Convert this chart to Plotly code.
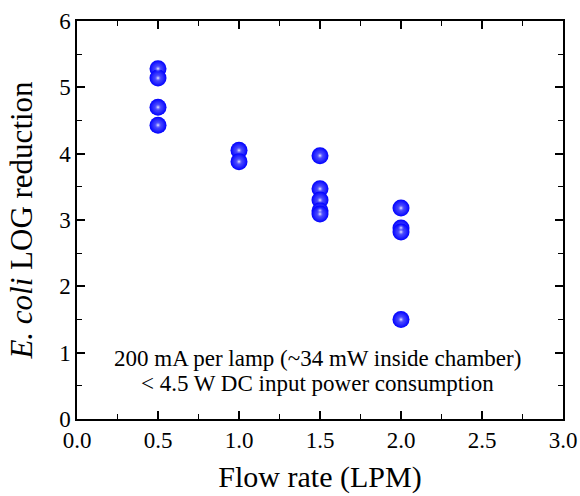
import plotly.graph_objects as go

flow_rate = [0.5, 0.5, 0.5, 0.5,
             1.0, 1.0,
             1.5, 1.5, 1.5, 1.5, 1.5,
             2.0, 2.0, 2.0, 2.0]
log_reduction = [5.28, 5.14, 4.70, 4.43,
                 4.05, 3.88,
                 3.97, 3.47, 3.30, 3.14, 3.09,
                 3.18, 2.88, 2.82, 1.50]

note_lines = ['200 mA per lamp (~34 mW inside chamber)',
              '< 4.5 W DC input power consumption']

font = 'Liberation Serif, Times New Roman, serif'

fig = go.Figure()
# sphere-like markers: radial gradient, light centre to blue edge
fig.add_trace(go.Scatter(
    x=flow_rate, y=log_reduction, mode='markers',
    marker=dict(size=17, color='#0000ff',
                gradient=dict(type='radial', color='#7070ff'),
                line=dict(width=0)),
    hoverinfo='skip', showlegend=False))
fig.add_trace(go.Scatter(
    x=flow_rate, y=log_reduction, mode='markers',
    marker=dict(size=8, color='rgba(0,0,255,0)',
                gradient=dict(type='radial', color='#f4f4ff'),
                line=dict(width=0)),
    showlegend=False))

axis = dict(showline=True, linecolor='black', linewidth=1.5, mirror='ticks',
            ticks='inside', ticklen=8, tickwidth=1.5, tickcolor='black',
            showgrid=False, zeroline=False, automargin=False,
            tickfont=dict(family=font, size=23, color='black'))

fig.update_xaxes(range=[0, 3], dtick=0.5, tickformat='.1f',
                 minor=dict(dtick=0.25, ticks='inside', ticklen=5, tickwidth=1.2, tickcolor='black'),
                 title=dict(text='Flow rate (LPM)', font=dict(family=font, size=30, color='black'),
                            standoff=14),
                 **axis)
fig.update_yaxes(range=[0, 6], dtick=1,
                 minor=dict(dtick=0.5, ticks='inside', ticklen=5, tickwidth=1.2, tickcolor='black'),
                 title=dict(text='<i>E. coli</i> LOG reduction',
                            font=dict(family=font, size=31, color='black'), standoff=17),
                 **axis)

for line, ypos in zip(note_lines, [0.153, 0.088]):
    fig.add_annotation(x=0.495, y=ypos, xref='paper', yref='paper',
                       xanchor='center', yanchor='middle',
                       text=line, showarrow=False,
                       font=dict(family=font, size=23, color='black'))

fig.update_layout(width=580, height=496, plot_bgcolor='white', paper_bgcolor='white',
                  margin=dict(l=77, r=17, t=21, b=77))

fig.write_html('out.html', config={'displayModeBar': False},
               post_script="document.body.style.margin='0';")
